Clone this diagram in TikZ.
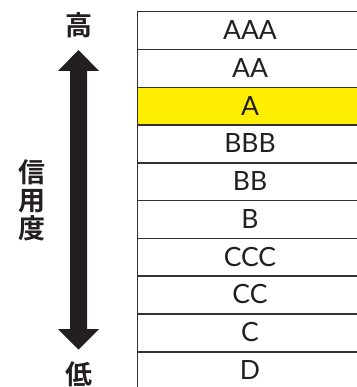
\documentclass[tikz,border=0pt]{standalone}
\usepackage{fontspec}
\setmainfont{Lato}
\newfontfamily\cjk{Noto Sans CJK JP}[BoldFont={Noto Sans CJK JP Bold}]
\definecolor{ink}{RGB}{35,31,32}
\definecolor{rule}{RGB}{50,50,50}
\definecolor{hiyellow}{RGB}{255,238,0}
\tikzset{
  x=1pt, y=-1pt,
  rowbox/.style={draw=rule, line width=1.5pt, minimum width=240pt, minimum height=37.78pt, anchor=north west, inner sep=0pt},
  rowtext/.style={text=ink, font=\fontsize{26.5}{28}\selectfont, anchor=base, inner sep=0pt},
  cjklabel/.style={text=ink, font=\cjk\bfseries\fontsize{27}{28}\selectfont, inner sep=0pt, align=center},
}
\begin{document}
\begin{tikzpicture}
\useasboundingbox (0,0) rectangle (356,387);
% rows
\foreach \i/\t/\f in {0/AAA/white,1/AA/white,2/A/hiyellow,3/BBB/white,4/BB/white,5/B/white,6/CCC/white,7/CC/white,8/C/white,9/D/white}{
  \node[rowbox, fill=\f] (row\i) at (136.5, {11+37.78*\i}) {};
  \node[rowtext] (txt\i) at (250, {11+37.78*\i+18.9+9.6}) {\t};
}
% arrow
\fill[ink] (78.5,50) -- (99,71) -- (87,71) -- (87,329) -- (99,329) -- (78.5,349.5)
  -- (58,329) -- (70,329) -- (70,71) -- (58,71) -- cycle;
% labels
\node[cjklabel] (hi) at (78.5,25) {高};
\node[cjklabel] (lo) at (78.5,374) {低};
\node[cjklabel] (cred) at (31.5,200) {信\\用\\度};
\end{tikzpicture}
\end{document}
